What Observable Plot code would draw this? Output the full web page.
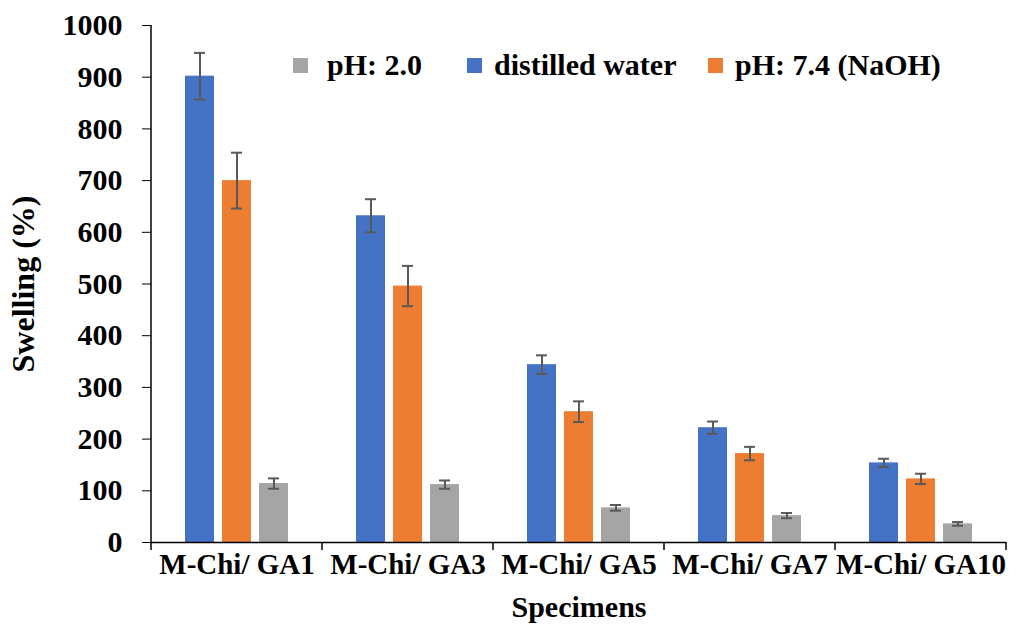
<!DOCTYPE html>
<html>
<head>
<meta charset="utf-8">
<script src="https://cdn.jsdelivr.net/npm/d3@7"></script>
<script src="https://cdn.jsdelivr.net/npm/@observablehq/plot@0.6"></script>
<style>
  body { margin: 0; background: #fff; }
  #chart { position: relative; width: 1021px; height: 624px; font-family: "Liberation Serif", "Times New Roman", serif; font-weight: bold; color: #000; }
  .legend-item { position: absolute; top: 49px; display: flex; align-items: center; font-size: 30px; line-height: 32px; white-space: nowrap; }
  .swatch { width: 15px; height: 15px; }
</style>
</head>
<body>
<div id="chart"></div>
<script>
// Swelling of M-Chi/GA specimens in three media
const specimens = ["M-Chi/ GA1", "M-Chi/ GA3", "M-Chi/ GA5", "M-Chi/ GA7", "M-Chi/ GA10"];
const series = ["distilled water", "pH: 7.4 (NaOH)", "pH: 2.0"];
const seriesColors = ["#4472C4", "#ED7D31", "#A5A5A5"];

const waterValues = [902, 632, 344, 222, 154];
const waterErrors = [45, 32, 18, 12, 8];
const neutralValues = [700, 496, 253, 172, 123];
const neutralErrors = [54, 39, 20, 13, 10];
const acidValues = [114, 112, 67, 52, 36];
const acidErrors = [10, 8, 5.5, 5, 3.5];

const yTicks = [0, 100, 200, 300, 400, 500, 600, 700, 800, 900, 1000];

// legend order as it reads left to right, with each entry's left edge and swatch gap
const legendOrder = ["pH: 2.0", "distilled water", "pH: 7.4 (NaOH)"];
const legendLeft = [293, 467, 708];
const legendGap = [19, 12, 12];

const valueSets = [
  [waterValues, waterErrors],
  [neutralValues, neutralErrors],
  [acidValues, acidErrors]
];

const rows = [];
specimens.forEach((specimen, i) => {
  series.forEach((s, j) => {
    const [vals, errs] = valueSets[j];
    rows.push({specimen, series: s, value: vals[i], lo: vals[i] - errs[i], hi: vals[i] + errs[i]});
  });
});

const plot = Plot.plot({
  width: 1021,
  height: 624,
  marginLeft: 149,
  marginRight: 13,
  marginTop: 25,
  marginBottom: 82,
  style: {fontFamily: "'Liberation Serif', 'Times New Roman', serif", fontWeight: "bold", fontSize: "30px", color: "#000", background: "#fff", overflow: "visible"},
  fx: {domain: specimens, paddingInner: 0, paddingOuter: 0, tickSize: 0, tickPadding: 11, label: "Specimens", labelAnchor: "center", labelOffset: 74},
  x: {domain: series, paddingInner: 0.21, paddingOuter: 0.87, axis: null},
  y: {domain: [0, 1000], ticks: yTicks, tickFormat: d => String(d), tickSize: 9, tickPadding: 20, label: "Swelling (%)", labelArrow: "none", labelAnchor: "center", labelOffset: 140},
  color: {domain: series, range: seriesColors},
  marks: [
    Plot.barY(rows, {fx: "specimen", x: "series", y: "value", fill: "series"}),
    Plot.ruleX(rows, {fx: "specimen", x: "series", y1: "lo", y2: "hi", stroke: "#595959", strokeWidth: 2}),
    Plot.tickY(rows, {fx: "specimen", x: "series", y: "lo", stroke: "#595959", strokeWidth: 2, insetLeft: 9, insetRight: 9}),
    Plot.tickY(rows, {fx: "specimen", x: "series", y: "hi", stroke: "#595959", strokeWidth: 2, insetLeft: 9, insetRight: 9}),
    Plot.ruleY([0], {stroke: "#000", strokeWidth: 1.5})
  ]
});

// axis line on the left and category boundary ticks on the baseline
const y = plot.scale("y");
const fx = plot.scale("fx");
const svg = d3.select(plot);
const axes = svg.append("g").attr("stroke", "#000").attr("stroke-width", 1.5);
const x0 = fx.apply(specimens[0]);
axes.append("line").attr("x1", x0).attr("x2", x0).attr("y1", y.apply(1000)).attr("y2", y.apply(0));
const bounds = specimens.map(d => fx.apply(d)).concat([fx.apply(specimens[specimens.length - 1]) + fx.bandwidth]);
axes.selectAll(".bt").data(bounds).join("line")
  .attr("x1", d => d).attr("x2", d => d)
  .attr("y1", y.apply(0)).attr("y2", y.apply(0) + 8);
svg.selectAll("[aria-label='y-axis label'] text").attr("font-size", 32).text("Swelling (%)");
svg.selectAll("[aria-label='fx-axis tick label']").attr("font-size", 29);

const chart = document.getElementById("chart");
chart.appendChild(plot);

legendOrder.forEach((name, k) => {
  const item = document.createElement("div");
  item.className = "legend-item";
  item.style.left = legendLeft[k] + "px";
  item.style.gap = legendGap[k] + "px";
  const sw = document.createElement("div");
  sw.className = "swatch";
  sw.style.background = seriesColors[series.indexOf(name)];
  const label = document.createElement("span");
  label.textContent = name;
  item.appendChild(sw);
  item.appendChild(label);
  chart.appendChild(item);
});
</script>
</body>
</html>
